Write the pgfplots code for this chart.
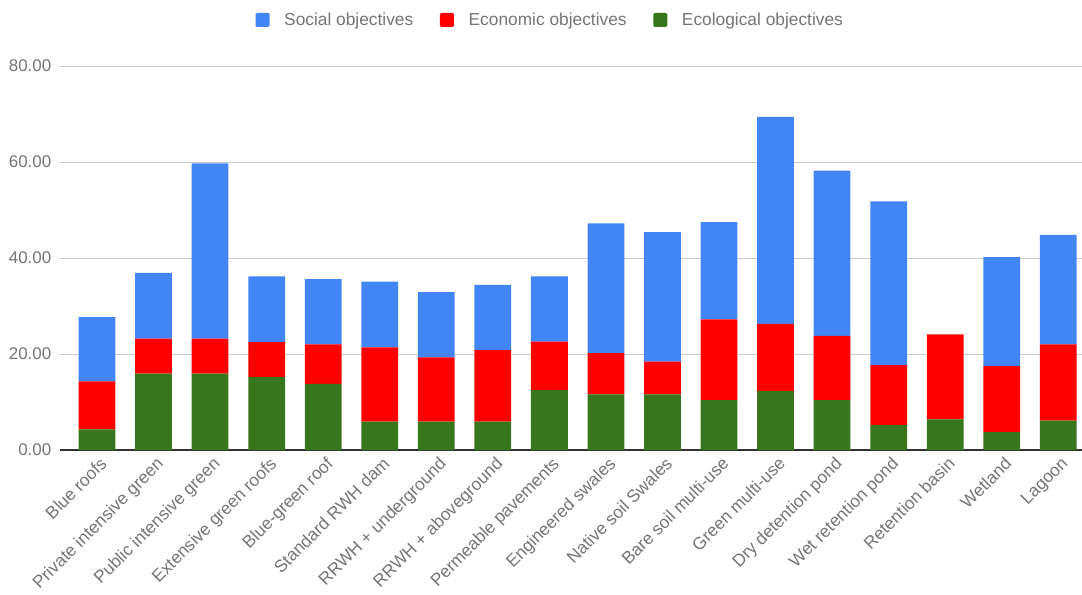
\documentclass[border=0pt]{standalone}
\usepackage{fontspec}
\setmainfont{Liberation Sans}
\usepackage{pgfplots}
\pgfplotsset{compat=1.18}
\usepackage{pgfplotstable}
\definecolor{gblue}{HTML}{4285F4}
\definecolor{gred}{HTML}{FF0000}
\definecolor{ggreen}{HTML}{38761D}
\definecolor{lblgray}{HTML}{757575}
\definecolor{gridgray}{HTML}{CCCCCC}
\pgfplotstableread{
idx eco econ soc
0  4.3 10.0 13.4
1  15.9 7.3 13.7
2  15.9 7.3 36.5
3  15.2 7.3 13.7
4  13.8 8.2 13.6
5  5.9 15.5 13.7
6  5.9 13.4 13.6
7  5.9 14.9 13.6
8  12.5 10.1 13.6
9  11.6 8.6 27.0
10 11.6 6.8 27.0
11 10.4 16.8 20.3
12 12.3 14.0 43.1
13 10.4 13.4 34.4
14 5.2 12.5 34.1
15 6.4 17.7 0
16 3.7 13.8 22.7
17 6.1 15.9 22.8
}\data
\begin{document}
\begin{tikzpicture}
\useasboundingbox (-45pt,-108pt) rectangle (766.5pt,337.5pt);
\begin{axis}[
  at={(0pt,0pt)}, anchor=south west,
  width=766.5pt, height=288pt, scale only axis,
  ymin=0, ymax=80, xmin=-0.655, xmax=17.42,
  ybar stacked, bar width=0.65,
  axis x line=bottom, axis y line=left,
  x axis line style={-, draw=black!80, line width=1.1pt},
  y axis line style={draw=none},
  ymajorgrids, grid style={draw=gridgray, line width=0.75pt},
  major tick length=0pt,
  ytick={0,20,40,60,80},
  yticklabel style={xshift=-3pt, /pgf/number format/.cd, fixed, fixed zerofill, precision=2},
  /pgf/number format/assume math mode=true,
  tick label style={font=\fontsize{12.7}{14}\selectfont, text=lblgray},
  xtick={0,...,17},
  xticklabels={Blue roofs, Private intensive green, Public intensive green, Extensive green roofs, Blue-green roof, Standard RWH dam, RRWH + underground, RRWH + aboveground, Permeable pavements, Engineered swales, Native soil Swales, Bare soil multi-use, Green multi-use, Dry detention pond, Wet retention pond, Retention basin, Wetland, Lagoon},
  xticklabel style={rotate=45, anchor=north east, inner sep=1pt, yshift=-3pt, xshift=-1pt, font=\fontsize{13}{15}\selectfont},
  legend style={at={(0.48,1.12)}, anchor=center, draw=none, fill=none,
    legend columns=3, font=\fontsize{13}{15}\selectfont, text=lblgray,
    /tikz/every odd column/.append style={column sep=9pt},
    /tikz/every even column/.append style={column sep=18pt}},
  legend image code/.code={\fill[#1, rounded corners=1pt] (0pt,-5.25pt) rectangle (10.5pt,5.25pt);},
  reverse legend,
]
\addplot[fill=ggreen, draw=none] table[x=idx, y=eco]{\data};
\addplot[fill=gred, draw=none] table[x=idx, y=econ]{\data};
\addplot[fill=gblue, draw=none] table[x=idx, y=soc]{\data};
\legend{Ecological objectives, Economic objectives, Social objectives}
\end{axis}
\end{tikzpicture}
\end{document}
